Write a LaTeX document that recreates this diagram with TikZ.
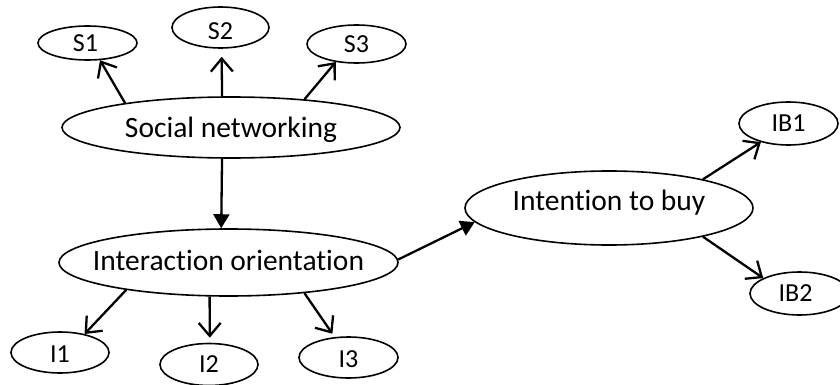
\documentclass[tikz,border=0pt]{standalone}
\usepackage{fontspec}
\setmainfont{Carlito}[Ligatures=NoCommon]
\usetikzlibrary{arrows.meta,shapes.geometric}

\tikzset{
  oval/.style={ellipse, draw, line width=1.6pt, inner sep=0pt},
  bigtxt/.style={font=\fontsize{29.5}{31}\selectfont, inner sep=0pt, text height=19pt, text depth=0pt},
  smalltxt/.style={font=\fontsize{26}{28}\selectfont, inner sep=0pt, text height=16.5pt, text depth=0pt},
  link/.style={line width=2.3pt, -{Straight Barb[length=13pt,width=22pt,line width=2.3pt]}},
  path/.style={line width=2.3pt, -{Triangle[length=14pt,width=16pt]}}
}

\begin{document}
\begin{tikzpicture}[x=1pt,y=-1pt]
  \useasboundingbox (0,0) rectangle (840,385);

  % constructs
  \node[oval, minimum width=338pt, minimum height=61pt,
        label={[bigtxt]center:Social networking}] (sn) at (231,127.5) {};
  \node[oval, minimum width=339pt, minimum height=67pt,
        label={[bigtxt, yshift=2pt]center:Interaction orientation}] (io) at (228.5,262.5) {};
  \node[oval, minimum width=288pt, minimum height=74pt,
        label={[bigtxt, yshift=7pt]center:Intention to buy}] (itb) at (609,208) {};

  % indicators
  \node[oval, minimum width=99pt, minimum height=34pt,
        label={[smalltxt, xshift=-2pt]center:S1}] (s1) at (87.5,43) {};
  \node[oval, minimum width=97pt, minimum height=41pt,
        label={[smalltxt, yshift=-4pt]center:S2}] (s2) at (220.5,27.5) {};
  \node[oval, minimum width=99pt, minimum height=38pt,
        label={[smalltxt]center:S3}] (s3) at (356.5,44) {};
  \node[oval, minimum width=98pt, minimum height=41pt,
        label={[smalltxt, yshift=-1.5pt]center:I1}] (i1) at (60,352.5) {};
  \node[oval, minimum width=98pt, minimum height=42pt,
        label={[smalltxt]center:I2}] (i2) at (209,364.5) {};
  \node[oval, minimum width=99pt, minimum height=41pt,
        label={[smalltxt, yshift=-2pt]center:I3}] (i3) at (348.5,357.5) {};
  \node[oval, minimum width=99pt, minimum height=43pt,
        label={[smalltxt]center:IB1}] (ib1) at (788.5,123.5) {};
  \node[oval, minimum width=99pt, minimum height=43pt,
        label={[smalltxt, xshift=-4pt]center:IB2}] (ib2) at (799.5,293.5) {};

  % loadings
  \draw[link] (sn.167) -- (s1.-54);
  \draw[link, shorten >=8pt] (sn.106) -- (s2.-87);
  \draw[link] (sn.21) -- (s3.-139);
  \draw[link] (io.-165.4) -- (i1.37);
  \draw[link, shorten >=5pt] (io.-119) -- (i2.88);
  \draw[link, shorten >=4pt] (io.-22.7) -- (i3.124.4);
  \draw[link] (itb.17.9) -- (ib1.-146.3);
  \draw[link] (itb.-17.3) -- (ib2.157);

  % structural paths
  \draw[path] (sn.-106.7) -- (io.102);
  \draw[path] (io.1) -- (itb.186.3);
\end{tikzpicture}
\end{document}
